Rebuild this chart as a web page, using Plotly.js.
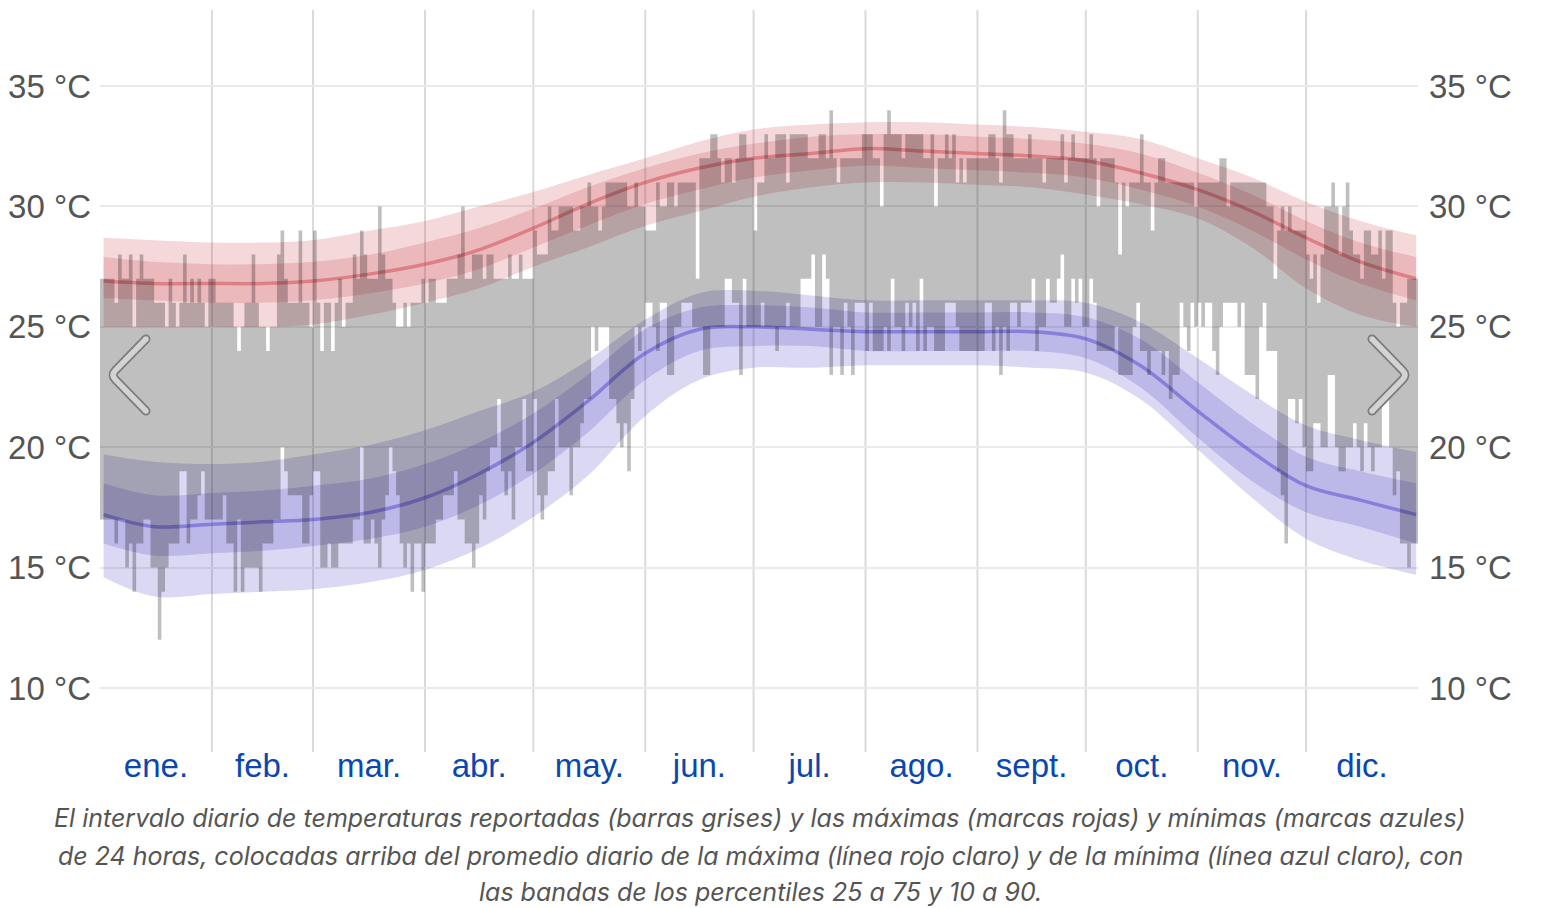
<!DOCTYPE html>
<html><head><meta charset="utf-8">
<script src="https://cdn.plot.ly/plotly-3.0.1.min.js"></script>
<style>html,body{margin:0;padding:0;background:#fff;}#chart{width:1544px;height:908px;}</style>
</head><body><div id="chart"></div>
<script>
// ---------- DATA ----------
const monthNames = ['ene.','feb.','mar.','abr.','may.','jun.','jul.','ago.','sept.','oct.','nov.','dic.'];
const monthStartDays = [0,31,59,90,120,151,181,212,243,273,304,334,365];
const yTickValues = [10,15,20,25,30,35];

// daily reported high (°C), one value per day
const dailyHigh = [
 27,27,27,27,26,28,27,27,28,25,27,28,27,27,27,26,26,26,25,27,26,25,26,28,26,27,26,27,26,25,27,
 27,26,26,26,26,26,25,24,25,26,26,28,26,25,25,24,25,25,28,29,27,26,26,26,29,26,26,25,
 29,26,24,26,26,24,26,27,25,26,26,28,27,29,28,27,27,27,30,28,27,27,26,25,25,26,25,26,26,26,27,
 26,27,27,26,26,26,27,27,27,28,30,27,27,28,28,28,27,28,28,27,27,27,27,28,27,27,28,27,27,27,
 29,28,28,28,30,29,29,30,30,30,30,29,29,30,30,31,30,30,29,30,31,31,31,31,31,31,30,30,31,30,30,
 29,29,29,31,30,30,31,31,30,31,31,31,31,31,27,32,32,32,33,33,32,31,32,32,31,32,33,33,32,32,
 29,31,31,33,32,32,33,33,33,31,33,33,33,33,33,32,32,32,33,33,32,34,32,31,32,32,32,32,32,32,33,
 33,33,32,32,30,33,34,33,33,33,32,33,33,33,33,33,32,32,33,30,32,32,33,32,33,31,32,31,32,32,32,
 32,32,32,33,33,32,31,34,33,33,32,32,32,32,33,32,32,32,31,32,32,32,32,33,31,32,33,32,32,32,
 32,33,32,30,32,32,32,32,31,28,31,30,31,31,31,33,31,31,29,31,32,32,31,31,31,31,31,31,31,31,30,
 31,31,31,31,31,31,32,32,30,31,31,31,31,31,31,31,31,31,31,30,30,27,29,30,29,30,29,29,29,29,
 28,27,28,26,28,30,30,31,30,28,30,31,29,28,28,27,29,29,28,28,29,27,29,29,26,25,26,26,27,27,27
];
// daily reported low (°C)
const dailyLow = [
 17,17,17,17,16,17,17,15,16,14,16,16,17,17,15,15,12,14,15,16,16,16,19,19,16,17,17,18,19,17,17,
 17,17,17,18,16,16,14,17,14,15,15,15,15,14,16,16,16,17,17,20,19,18,18,18,18,16,16,18,
 19,19,15,15,16,15,15,16,16,16,16,17,17,20,16,16,17,16,15,17,18,20,19,18,16,15,16,14,16,16,14,
 16,16,16,17,17,18,18,18,19,17,17,16,16,15,16,18,17,19,20,20,22,19,18,19,17,20,20,22,19,19,
 22,18,17,18,19,19,22,20,20,20,18,20,20,21,22,22,25,24,25,25,25,22,22,21,20,21,19,22,25,24,25,
 26,26,25,24,26,26,23,23,25,25,26,26,26,25,25,25,23,23,25,25,25,25,27,27,26,26,23,27,25,25,
 25,25,26,25,25,25,24,25,25,26,25,25,25,27,27,27,28,25,25,28,27,23,25,25,23,26,25,23,26,26,26,
 24,26,24,24,24,25,24,27,25,25,24,26,25,26,24,27,24,25,25,24,24,24,26,26,26,25,24,24,24,24,24,
 24,24,26,26,24,25,23,25,24,26,26,25,26,26,26,27,24,25,25,27,26,26,27,28,25,25,27,26,27,25,
 25,27,26,24,24,24,24,24,25,23,23,23,23,25,26,24,24,23,24,24,24,23,24,22,23,23,26,25,24,26,25,
 26,25,26,26,24,23,25,26,26,26,26,25,26,23,23,23,22,25,26,24,24,24,19,18,16,22,22,21,22,20,
 19,19,21,21,20,20,23,23,20,19,19,20,20,21,20,19,21,20,19,20,20,22,22,20,18,19,16,16,15,16,16
];

// climatology (day of year where read)
const bandDays = [1,15,31,45,59,75,90,105,120,135,151,166,181,197,212,228,243,258,273,288,304,319,334,349,364.5];
const avgHigh = [26.9,26.8,26.8,26.8,26.9,27.2,27.6,28.2,29.1,30.1,31.0,31.6,32.0,32.2,32.4,32.3,32.2,32.1,31.9,31.4,30.7,29.8,28.7,27.7,27.0];
const highP90 = [28.7,28.6,28.5,28.5,28.6,29.0,29.4,30.0,30.6,31.3,32.0,32.7,33.2,33.4,33.5,33.5,33.4,33.3,33.1,32.8,32.0,31.2,30.2,29.4,28.8];
const highP75 = [27.9,27.7,27.6,27.6,27.7,28.0,28.5,29.1,29.9,30.8,31.6,32.2,32.6,32.9,33.0,33.0,32.9,32.8,32.6,32.2,31.4,30.5,29.4,28.5,27.9];
const highP25 = [26.2,26.1,26.0,26.0,26.1,26.4,26.8,27.4,28.3,29.2,30.1,30.7,31.2,31.5,31.7,31.6,31.5,31.4,31.2,30.7,30.0,29.0,27.8,26.8,26.1];
const highP10 = [25.0,25.0,25.0,25.0,25.1,25.5,26.0,26.6,27.5,28.3,29.2,29.8,30.4,30.8,31.0,31.0,30.9,30.8,30.5,30.1,29.5,28.3,26.6,25.5,25.0];
const avgLow  = [17.2,16.7,16.8,16.9,17.0,17.3,17.9,18.9,20.2,21.9,23.9,24.9,25.0,24.9,24.8,24.8,24.8,24.8,24.5,23.4,21.5,19.8,18.4,17.8,17.2];
const lowP90  = [19.7,19.4,19.3,19.4,19.7,20.1,20.7,21.5,22.3,23.6,25.3,26.4,26.5,26.3,26.1,26.1,26.1,26.1,26.0,25.2,23.7,22.2,20.9,20.3,19.8];
const lowP75  = [18.5,18.0,18.1,18.2,18.4,18.7,19.3,20.2,21.4,23.0,24.9,25.8,25.9,25.8,25.6,25.6,25.6,25.6,25.4,24.5,22.7,21.0,19.6,19.0,18.5];
const lowP25  = [16.0,15.5,15.6,15.7,15.9,16.2,16.7,17.6,18.9,20.6,22.8,24.0,24.2,24.2,24.0,24.0,24.0,24.0,23.7,22.5,20.4,18.6,17.3,16.7,16.0];
const lowP10  = [14.6,13.8,13.9,14.0,14.1,14.4,14.9,15.8,17.1,18.8,21.3,22.8,23.3,23.3,23.4,23.4,23.4,23.3,23.1,22.0,19.9,17.9,16.2,15.3,14.7];

const captionLines = [
 'El intervalo diario de temperaturas reportadas (barras grises) y las máximas (marcas rojas) y mínimas (marcas azules)',
 'de 24 horas, colocadas arriba del promedio diario de la máxima (línea rojo claro) y de la mínima (línea azul claro), con',
 'las bandas de los percentiles 25 a 75 y 10 a 90.'
];

// ---------- LAYOUT GEOMETRY ----------
const W = 1544, H = 908, ML = 100, MR = 126, MT = 10, MB = 156;
const plotW = W - ML - MR, plotH = H - MT - MB;
const px2x = px => (px - ML) / plotW;
const py2y = py => (H - MB - py) / plotH;

const FONT = 'Liberation Sans, Arial, sans-serif';
const CAPFONT = 'Inter, Liberation Sans, sans-serif';
const RED = 'rgba(200,60,70,0.2)';
const BLUE = 'rgba(70,60,190,0.2)';

// step representation of daily bars
const dayEdges = dailyHigh.map((_, i) => i).concat([dailyHigh.length]);
const highStep = dailyHigh.concat([dailyHigh[dailyHigh.length - 1]]);
const lowStep = dailyLow.concat([dailyLow[dailyLow.length - 1]]);

function band(lo, hi, color) {
  return [
    {x: bandDays, y: lo, type: 'scatter', mode: 'lines', line: {width: 0, shape: 'spline', smoothing: 1}, hoverinfo: 'skip', showlegend: false},
    {x: bandDays, y: hi, type: 'scatter', mode: 'lines', line: {width: 0, shape: 'spline', smoothing: 1}, fill: 'tonexty', fillcolor: color, hoverinfo: 'skip', showlegend: false}
  ];
}

const traces = [].concat(
  band(highP10, highP90, RED),
  band(highP25, highP75, RED),
  band(lowP10, lowP90, BLUE),
  band(lowP25, lowP75, BLUE),
  [
    {x: bandDays, y: avgHigh, type: 'scatter', mode: 'lines', line: {color: 'rgba(200,50,60,0.42)', width: 3.5, shape: 'spline', smoothing: 1}, hoverinfo: 'skip', showlegend: false},
    {x: bandDays, y: avgLow, type: 'scatter', mode: 'lines', line: {color: 'rgba(60,50,200,0.42)', width: 3.5, shape: 'spline', smoothing: 1}, hoverinfo: 'skip', showlegend: false},
    {x: dayEdges, y: lowStep, type: 'scatter', mode: 'lines', line: {width: 0, shape: 'hv'}, hoverinfo: 'skip', showlegend: false},
    {x: dayEdges, y: highStep, type: 'scatter', mode: 'lines', line: {width: 0, shape: 'hv'}, fill: 'tonexty', fillcolor: 'rgba(0,0,0,0.25)', hoverinfo: 'skip', showlegend: false},
    {x: bandDays, y: avgHigh, yaxis: 'y2', type: 'scatter', mode: 'lines', line: {width: 0}, opacity: 0, hoverinfo: 'skip', showlegend: false}
  ]
);

// month boundary lines
const shapes = monthStartDays.slice(1, -1).map(d => ({
  type: 'line', xref: 'x', yref: 'paper', x0: d, x1: d, y0: 0, y1: 1,
  line: {color: '#dadada', width: 2}, layer: 'between'
}));

// carousel chevrons (decoration)
function chevron(A, B, C) {
  const r = 6;
  const n = (P) => { const dx = P[0] - B[0], dy = P[1] - B[1], l = Math.hypot(dx, dy); return [B[0] + dx / l * r, B[1] + dy / l * r]; };
  const b1 = n(A), b2 = n(C);
  const p = q => px2x(q[0]).toFixed(5) + ',' + py2y(q[1]).toFixed(5);
  const path = 'M' + p(A) + ' L' + p(b1) + ' Q' + p(B) + ' ' + p(b2) + ' L' + p(C);
  const circ = (P, rad, col) => ({type: 'circle', xref: 'paper', yref: 'paper', x0: px2x(P[0] - rad), x1: px2x(P[0] + rad), y0: py2y(P[1] + rad), y1: py2y(P[1] - rad), fillcolor: col, line: {width: 0}, layer: 'above'});
  const dark = '#7c7c7c', light = '#d3d3d3';
  return [
    {type: 'path', xref: 'paper', yref: 'paper', path: path, line: {color: dark, width: 9}, layer: 'above'},
    circ(A, 4.5, dark), circ(C, 4.5, dark),
    {type: 'path', xref: 'paper', yref: 'paper', path: path, line: {color: light, width: 5.5}, layer: 'above'},
    circ(A, 2.75, light), circ(C, 2.75, light)
  ];
}
shapes.push(...chevron([146, 339], [111, 375], [146, 411]));
shapes.push(...chevron([1372, 339], [1407, 375], [1372, 411]));

const monthMid = monthNames.map((_, i) => (monthStartDays[i] + monthStartDays[i + 1]) / 2);
const yTickText = yTickValues.map(v => v + ' °C');

const annotations = captionLines.map((t, i) => ({
  text: t, xref: 'paper', yref: 'paper', x: px2x(760), y: py2y([818, 856, 892][i]),
  xanchor: 'center', yanchor: 'middle', showarrow: false,
  font: {family: CAPFONT, size: 25, color: '#555', style: 'italic'}
}));

const yRange = [7.34, 38.16];
const layout = {
  width: W, height: H,
  margin: {l: ML, r: MR, t: MT, b: MB, pad: 0},
  paper_bgcolor: '#fff', plot_bgcolor: '#fff',
  showlegend: false,
  xaxis: {
    range: [0, 365], tickmode: 'array', tickvals: monthMid, ticktext: monthNames,
    showgrid: false, zeroline: false, showline: false, ticks: '',
    tickfont: {family: FONT, size: 33, color: '#0a47b0'}, ticklabelstandoff: -9, fixedrange: true
  },
  yaxis: {
    range: yRange, tickmode: 'array', tickvals: yTickValues, ticktext: yTickText,
    showgrid: true, gridcolor: '#e9e9e9', gridwidth: 2, zeroline: false, showline: false, ticks: '',
    tickfont: {family: FONT, size: 33, color: '#555'}, ticklabelstandoff: 8, fixedrange: true
  },
  yaxis2: {
    range: yRange, overlaying: 'y', side: 'right', tickmode: 'array', tickvals: yTickValues, ticktext: yTickText,
    showgrid: false, zeroline: false, showline: false, ticks: '',
    tickfont: {family: FONT, size: 33, color: '#555'}, ticklabelstandoff: 10, fixedrange: true
  },
  shapes: shapes,
  annotations: annotations
};

Plotly.newPlot('chart', traces, layout, {displayModeBar: false, staticPlot: true});
</script>
</body></html>
